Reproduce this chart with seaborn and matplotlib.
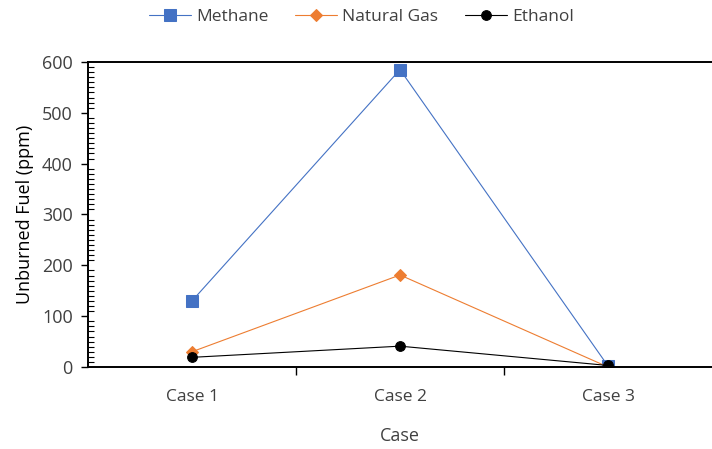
import matplotlib
matplotlib.use("Agg")
import matplotlib.pyplot as plt
from matplotlib.ticker import MultipleLocator, FixedLocator
import seaborn as sns
import pandas as pd

cases = ["Case 1", "Case 2", "Case 3"]
methane = [130, 585, 2]
natural_gas = [30, 181, 0]
ethanol = [19, 41, 3]

series_names = ["Methane", "Natural Gas", "Ethanol"]

df = pd.DataFrame({
    "Case": cases * 3,
    "Fuel": [n for n in series_names for _ in cases],
    "ppm": methane + natural_gas + ethanol,
})

sns.set_theme(style="white")
plt.rcParams["font.family"] = ["Open Sans", "DejaVu Sans"]
txt = "#404040"

fig = plt.figure(figsize=(7.12, 4.49), dpi=100)
ax = fig.add_axes([88 / 712, (449 - 367) / 449, 1 - 88 / 712, (367 - 62) / 449])

palette = {"Methane": "#4472C4", "Natural Gas": "#ED7D31", "Ethanol": "#000000"}
markers = {"Methane": "s", "Natural Gas": "D", "Ethanol": "o"}
sizes = {"Methane": 9, "Natural Gas": 6.5, "Ethanol": 7}

for name in series_names:
    sub = df[df["Fuel"] == name]
    sns.lineplot(data=sub, x="Case", y="ppm", ax=ax, color=palette[name],
                 marker=markers[name], markersize=sizes[name],
                 markeredgecolor=palette[name], linewidth=0.8,
                 label=name, sort=False)

ax.set_xlim(-0.5, 2.5)
ax.set_ylim(0, 600)

# y axis: outward majors, inward minors every 10
ax.yaxis.set_major_locator(MultipleLocator(100))
ax.yaxis.set_minor_locator(MultipleLocator(10))
ax.tick_params(axis="y", which="major", direction="out", length=5, width=1,
               color="black", labelsize=13, labelcolor=txt, pad=6, left=True)
ax.tick_params(axis="y", which="minor", direction="in", length=4, width=0.8,
               color="black", left=True)

# x axis: labels at categories, ticks at category boundaries
ax.xaxis.set_major_locator(FixedLocator([0, 1, 2]))
ax.set_xticklabels(cases)
ax.xaxis.set_minor_locator(FixedLocator([0.5, 1.5]))
ax.tick_params(axis="x", which="major", length=0, labelsize=12.5,
               labelcolor=txt, pad=16)
ax.tick_params(axis="x", which="minor", direction="out", length=6,
               width=1, color="black", bottom=True)

for side in ["left", "bottom", "top"]:
    ax.spines[side].set_color("black")
    ax.spines[side].set_linewidth(1.4)
ax.spines["right"].set_visible(False)

ax.set_xlabel("Case", fontsize=13, color=txt, labelpad=16)
ax.set_ylabel("Unburned Fuel (ppm)", fontsize=13, color="black", labelpad=6)

leg = ax.legend(loc="upper center", bbox_to_anchor=(0.438, 1.225),
                ncol=3, frameon=False, fontsize=12.5, handlelength=2.4,
                columnspacing=1.55, handletextpad=0.3)
for t in leg.get_texts():
    t.set_color(txt)

fig.savefig("out.png", dpi=100)
